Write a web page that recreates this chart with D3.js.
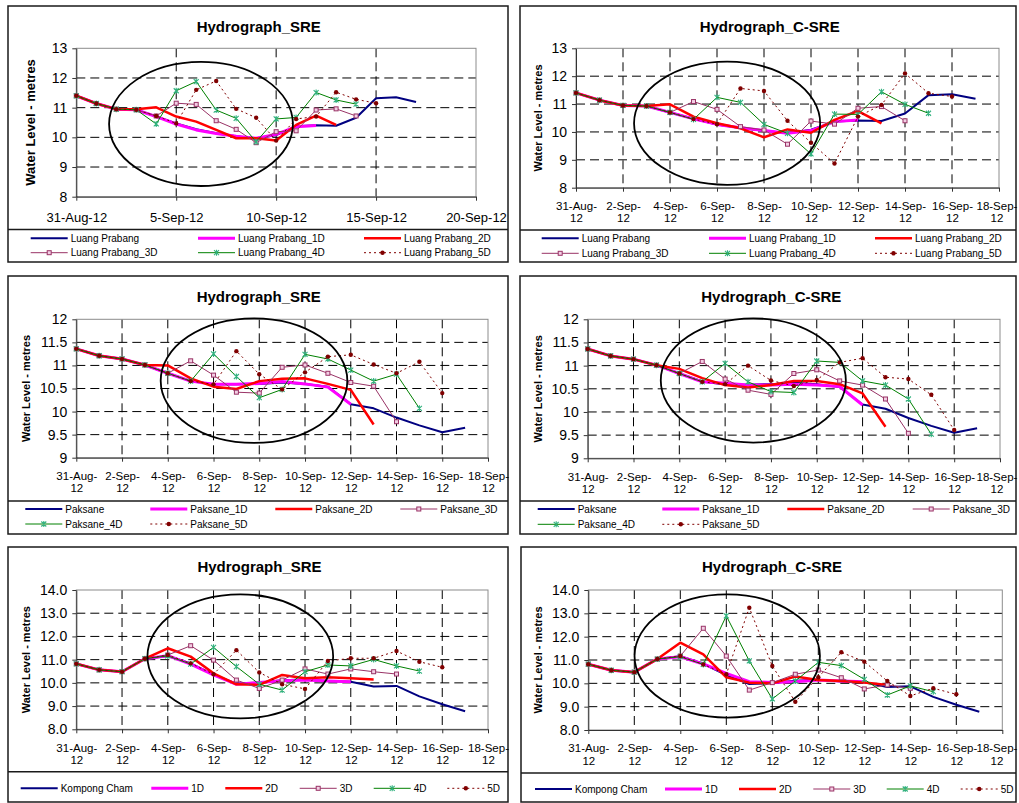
<!DOCTYPE html>
<html><head><meta charset="utf-8">
<script src="https://cdn.jsdelivr.net/npm/d3@7"></script>
<style>
body{margin:0;background:#fff}
svg{display:block}
text{font-family:"Liberation Sans",Arial,Helvetica,sans-serif}
</style>
</head><body>
<svg id="chart" width="1019" height="803"></svg>
<script>
// ---------- categories ----------
const dates = ["31-Aug-12","1-Sep-12","2-Sep-12","3-Sep-12","4-Sep-12","5-Sep-12","6-Sep-12","7-Sep-12","8-Sep-12",
  "9-Sep-12","10-Sep-12","11-Sep-12","12-Sep-12","13-Sep-12","14-Sep-12","15-Sep-12","16-Sep-12","17-Sep-12"];
const xTicks5 = ["31-Aug-12","5-Sep-12","10-Sep-12","15-Sep-12","20-Sep-12"];
const xTicks2 = ["31-Aug-12","2-Sep-12","4-Sep-12","6-Sep-12","8-Sep-12","10-Sep-12","12-Sep-12","14-Sep-12","16-Sep-12","18-Sep-12"];
const yTicksLP = ["8","9","10","11","12","13"];
const yTicksPK = ["9","9.5","10","10.5","11","11.5","12"];
const yTicksKC = ["8.0","9.0","10.0","11.0","12.0","13.0","14.0"];

// ---------- series names ----------
const namesLP = ["Luang Prabang","Luang Prabang_1D","Luang Prabang_2D","Luang Prabang_3D","Luang Prabang_4D","Luang Prabang_5D"];
const namesPK = ["Paksane","Paksane_1D","Paksane_2D","Paksane_3D","Paksane_4D","Paksane_5D"];
const namesKC = ["Kompong Cham","1D","2D","3D","4D","5D"];

// ---------- observed ----------
const obsLP = [11.40,11.14,10.95,10.93,10.70,10.47,10.27,10.14,10.04,9.95,10.08,10.37,10.41,10.39,10.66,11.32,11.35,11.19];
const obsPK = [11.36,11.21,11.14,11.01,10.83,10.66,10.59,10.59,10.60,10.63,10.60,10.54,10.16,10.07,9.87,9.70,9.55,9.65];
const obsKC = [10.82,10.56,10.48,11.04,11.16,10.84,10.35,9.97,10.01,10.11,10.15,10.08,10.05,9.84,9.87,9.42,9.08,8.78];

// ---------- Luang Prabang SRE ----------
const lpSre1D = [11.40,11.14,10.95,10.93,10.70,10.45,10.25,10.13,10.04,9.97,10.10,10.36,10.40];
const lpSre2D = [11.40,11.14,10.95,10.95,11.01,10.70,10.53,10.25,9.97,9.97,9.89,10.42,10.73,10.42];
const lpSre3D = [11.40,11.14,10.95,10.93,10.72,11.15,11.11,10.56,10.27,9.82,10.19,10.22,10.92,10.96,10.72];
const lpSre4D = [11.40,11.14,10.95,10.93,10.45,11.57,11.88,10.92,10.64,9.85,10.62,10.67,11.51,11.26,11.12];
const lpSre5D = [11.40,11.14,10.95,10.93,10.72,10.47,11.60,11.90,10.96,10.66,9.89,10.62,10.70,11.52,11.28,11.15];
// ---------- Luang Prabang C-SRE ----------
const lpC1D = [11.40,11.14,10.95,10.93,10.70,10.47,10.27,10.15,10.05,9.95,10.05,10.37,10.43];
const lpC2D = [11.40,11.14,10.95,10.93,10.99,10.55,10.31,10.13,9.81,10.09,9.97,10.43,10.75,10.31];
const lpC3D = [11.40,11.14,10.95,10.93,10.70,11.09,10.81,10.19,10.07,9.56,10.39,10.28,10.85,10.91,10.40];
const lpC4D = [11.40,11.14,10.95,10.93,10.70,10.45,11.24,11.06,10.27,9.95,9.21,10.64,10.63,11.44,10.99,10.67];
const lpC5D = [11.40,11.14,10.95,10.93,10.70,10.46,10.28,11.56,11.47,10.40,9.61,8.87,10.55,10.97,12.10,11.39,11.27];
// ---------- Paksane SRE ----------
const pkSre1D = [11.36,11.21,11.14,11.01,10.83,10.66,10.59,10.59,10.61,10.65,10.60,10.53,10.16];
const pkSre2D = [11.36,11.21,11.14,11.01,11.00,10.72,10.54,10.49,10.66,10.71,10.72,10.60,10.47,9.72];
const pkSre3D = [11.36,11.21,11.14,11.01,10.83,11.10,10.79,10.42,10.40,10.96,11.01,10.83,10.63,10.55,9.78];
const pkSre4D = [11.36,11.21,11.14,11.01,10.83,10.66,11.25,10.76,10.30,10.48,11.24,11.14,10.90,10.66,10.81,10.07];
const pkSre5D = [11.36,11.21,11.14,11.01,10.83,10.66,10.59,11.31,10.81,10.48,10.85,11.19,11.23,11.02,10.83,11.08,10.40];
// ---------- Paksane C-SRE ----------
const pkC1D = [11.36,11.21,11.14,11.01,10.83,10.65,10.62,10.58,10.58,10.60,10.58,10.55,10.15];
const pkC2D = [11.36,11.21,11.14,11.01,10.93,10.73,10.58,10.53,10.58,10.67,10.67,10.60,10.40,9.68];
const pkC3D = [11.36,11.21,11.14,11.01,10.83,11.09,10.71,10.47,10.38,10.83,10.91,10.67,10.58,10.28,9.54];
const pkC4D = [11.36,11.21,11.14,11.01,10.83,10.65,11.05,10.65,10.44,10.42,11.10,11.07,10.67,10.58,10.28,9.52];
const pkC5D = [11.36,11.21,11.14,11.01,10.83,10.65,10.60,11.00,10.68,10.56,10.69,11.07,11.16,10.75,10.71,10.37,9.61];
// ---------- Kompong Cham SRE ----------
const kcSre1D = [10.82,10.56,10.48,11.04,11.17,10.81,10.34,9.94,10.02,10.09,10.12,10.08,10.05];
const kcSre2D = [10.82,10.56,10.48,11.04,11.49,11.13,10.41,9.94,9.91,10.34,10.20,10.24,10.20,10.15];
const kcSre3D = [10.82,10.56,10.48,11.04,11.20,11.60,10.98,10.12,9.76,10.12,10.60,10.38,10.60,10.48,10.38];
const kcSre4D = [10.82,10.56,10.48,11.04,11.16,10.81,11.53,10.70,9.94,9.69,10.48,10.77,10.73,11.01,10.73,10.51];
const kcSre5D = [10.82,10.56,10.48,11.04,11.20,10.84,10.37,11.41,10.45,9.94,9.74,10.94,11.06,11.06,11.37,10.91,10.67];
// ---------- Kompong Cham C-SRE ----------
const kcC1D = [10.82,10.56,10.48,11.04,11.14,10.83,10.43,10.07,10.04,10.07,10.14,10.10,10.07];
const kcC2D = [10.82,10.56,10.48,11.04,11.74,11.24,10.26,10.03,10.00,10.29,10.14,10.10,10.04,9.93];
const kcC3D = [10.82,10.56,10.48,11.04,11.17,12.36,11.17,9.71,10.03,10.39,10.57,10.24,9.76,9.93,9.79];
const kcC4D = [10.82,10.56,10.48,11.04,11.14,10.81,12.89,10.96,9.33,10.10,10.90,10.76,10.17,9.50,9.89,9.64];
const kcC5D = [10.82,10.56,10.48,11.04,11.17,10.81,10.39,13.24,10.74,9.21,10.26,11.33,10.93,10.10,9.46,9.79,9.53];

// ---------- styles ----------
const styles = [
  {color:"#000080", width:2},
  {color:"#FF00FF", width:3},
  {color:"#FF0000", width:2.5},
  {color:"#993366", width:1, marker:"square"},
  {color:"#008000", width:1, marker:"star"},
  {color:"#800000", width:1, dash:"2,3", marker:"circle"}
];

// ---------- panel layout ----------
const panels = [
  {frame:[8,6,500,256], plot:[76.3,48.3,476,196.7], legendY:229.5, title:"Hydrograph_SRE", titleX:258.8, titleY:31.5,
   yLabelX:30.7, yLabelSize:13, xTicks:xTicks5, twoLine:false, yTicks:yTicksLP, names:namesLP,
   series:[obsLP,lpSre1D,lpSre2D,lpSre3D,lpSre4D,lpSre5D],
   legend:[[30.7,238.3],[198,238.3],[364,238.3],[30.7,252.7],[198,252.7],[364,252.7]],
   ellipse:[6.24,10.45,4.6,2.09]},
  {frame:[520,6,496,256], plot:[576,48.3,999,187.7], legendY:230, title:"Hydrograph_C-SRE", titleX:769.7, titleY:31.5,
   yLabelX:538.3, yLabelSize:11, xTicks:xTicks2, twoLine:true, yTicks:yTicksLP, names:namesLP,
   series:[obsLP,lpC1D,lpC2D,lpC3D,lpC4D,lpC5D],
   legend:[[541.7,238.3],[709,238.3],[875,238.3],[541.7,253.3],[709,253.3],[875,253.3]],
   ellipse:[6.43,10.31,3.96,2.21]},
  {frame:[8,276,500,258], plot:[76.3,319.3,488,457.7], legendY:501, title:"Hydrograph_SRE", titleX:258.8, titleY:301.7,
   yLabelX:26.3, yLabelSize:11, xTicks:xTicks2, twoLine:true, yTicks:yTicksPK, names:namesPK,
   series:[obsPK,pkSre1D,pkSre2D,pkSre3D,pkSre4D,pkSre5D],
   legend:[[25.3,509],[150.3,509],[275.3,509],[400.3,509],[25.3,524],[150.3,524]],
   ellipse:[7.77,10.67,4.08,1.35]},
  {frame:[520,276,496,258], plot:[587.7,319.3,1000,458.3], legendY:501, title:"Hydrograph_C-SRE", titleX:771.3, titleY:301.7,
   yLabelX:538.3, yLabelSize:11, xTicks:xTicks2, twoLine:true, yTicks:yTicksPK, names:namesPK,
   series:[obsPK,pkC1D,pkC2D,pkC3D,pkC4D,pkC5D],
   legend:[[537.7,509],[662.3,509],[787.3,509],[912.7,509],[537.7,524.3],[662.3,524.3]],
   ellipse:[7.23,10.68,4.04,1.34]},
  {frame:[8,547,500,255], plot:[76.3,590,488,729.3], legendY:771.7, title:"Hydrograph_SRE", titleX:259.5, titleY:571.7,
   yLabelX:26.3, yLabelSize:11, xTicks:xTicks2, twoLine:true, yTicks:yTicksKC, names:namesKC,
   series:[obsKC,kcSre1D,kcSre2D,kcSre3D,kcSre4D,kcSre5D],
   legend:[[20.7,788.3],[151.3,788.3],[225.3,788.3],[299.7,788.3],[373.7,788.3],[447.3,788.3]],
   ellipse:[7.17,11.14,4.06,2.67]},
  {frame:[521,547,495,255], plot:[588.3,590,1002.3,730], legendY:773, title:"Hydrograph_C-SRE", titleX:772, titleY:571.7,
   yLabelX:538.3, yLabelSize:11, xTicks:xTicks2, twoLine:true, yTicks:yTicksKC, names:namesKC,
   series:[obsKC,kcC1D,kcC2D,kcC3D,kcC4D,kcC5D],
   legend:[[535,789],[665,789],[739,789],[813.3,789],[886.7,789],[960.7,789]],
   ellipse:[6.04,11.17,4.03,2.64]}
];

const parse = d3.utcParse("%d-%b-%y");
const svg = d3.select("#chart");
const DAY = 864e5;
const MAXX = 1017;

function drawMarker(sel, type, color) {
  if (type === "square") {
    sel.append("rect").attr("x",-2).attr("y",-2).attr("width",4).attr("height",4)
      .attr("fill","#f2cfe4").attr("stroke",color).attr("stroke-width",1);
  } else if (type === "star") {
    sel.append("path").attr("d","M-2.5,-2.5L2.5,2.5M-2.5,2.5L2.5,-2.5M0,-3L0,3")
      .attr("stroke","#33b27f").attr("stroke-width",1.1).attr("fill","none");
  } else if (type === "circle") {
    sel.append("circle").attr("r",2.2).attr("fill",color);
  }
}

panels.forEach(p => {
  const g = svg.append("g");
  const [fx,fy,fw,fh] = p.frame;
  g.append("rect").attr("x",fx).attr("y",fy).attr("width",fw).attr("height",fh)
    .attr("fill","#fff").attr("stroke","#1a1a1a").attr("stroke-width",1.5);
  g.append("line").attr("x1",fx).attr("x2",fx+fw).attr("y1",p.legendY).attr("y2",p.legendY)
    .attr("stroke","#1a1a1a").attr("stroke-width",1.5);

  const [L,T,R,B] = p.plot;
  const xt = p.xTicks.map(parse);
  const x = d3.scaleUtc().domain([xt[0], xt[xt.length-1]]).range([L,R]);
  const yv = p.yTicks.map(Number);
  const y = d3.scaleLinear().domain([yv[0], yv[yv.length-1]]).range([B,T]);

  // grid
  g.selectAll(null).data(yv.slice(1,-1)).join("line")
    .attr("x1",L).attr("x2",R).attr("y1",d=>y(d)).attr("y2",d=>y(d))
    .attr("stroke","#000").attr("stroke-width",1).attr("stroke-dasharray","9,5");
  g.selectAll(null).data(xt.slice(1,-1)).join("line")
    .attr("x1",d=>x(d)).attr("x2",d=>x(d)).attr("y1",T).attr("y2",B)
    .attr("stroke","#000").attr("stroke-width",1).attr("stroke-dasharray","9,5");
  g.append("rect").attr("x",L).attr("y",T).attr("width",R-L).attr("height",B-T)
    .attr("fill","none").attr("stroke","#8c8c8c").attr("stroke-width",1);

  // axes
  const yAxis = d3.axisLeft(y).tickValues(yv).tickFormat((d,i)=>p.yTicks[i]).tickSize(4).tickSizeOuter(0).tickPadding(5);
  g.append("g").attr("transform",`translate(${L},0)`).call(yAxis)
    .call(s=>{s.select(".domain").attr("stroke","#333");
      s.selectAll(".tick line").attr("stroke","#333");
      s.selectAll("text").attr("font-size",14).attr("fill","#000");});
  const xAxis = d3.axisBottom(x).tickValues(xt).tickFormat((d,i)=>p.xTicks[i]).tickSize(4).tickSizeOuter(0);
  g.append("g").attr("transform",`translate(0,${B})`).call(xAxis)
    .call(s=>{s.select(".domain").attr("stroke","#333");
      s.selectAll(".tick line").attr("stroke","#333");
      s.selectAll(".tick").each(function(d){
        const t = d3.select(this).select("text");
        const lab = t.text();
        t.attr("fill","#000").attr("dy",null);
        if (!p.twoLine) {
          t.attr("font-size",13).attr("y",25);
        } else {
          const k = lab.lastIndexOf("-");
          t.text(null).attr("font-size",11.5).attr("y",null);
          t.append("tspan").attr("x",0).attr("y",22.3).text(lab.slice(0,k+1));
          t.append("tspan").attr("x",0).attr("y",34.6).text(lab.slice(k+1));
        }
        // keep the label inside the page
        const w = t.node().getComputedTextLength ? t.node().getBBox().width : 0;
        const over = x(d) + w/2 - MAXX;
        if (over > 0) t.selectAll("tspan").attr("x",-over);
        if (over > 0 && !p.twoLine) t.attr("x",-over);
      });});

  // title
  g.append("text").attr("x",p.titleX).attr("y",p.titleY).attr("text-anchor","middle")
    .attr("font-size",15).attr("font-weight","bold").text(p.title);
  // y label
  g.append("text").attr("transform",`translate(${p.yLabelX},${(T+B)/2}) rotate(-90)`)
    .attr("text-anchor","middle").attr("dy","0.35em")
    .attr("font-size",p.yLabelSize).attr("font-weight","bold").text("Water Level - metres");

  // series
  const line = d3.line().x(d=>x(d[0])).y(d=>y(d[1]));
  p.series.forEach((vals,k) => {
    const st = styles[k];
    const pts = vals.map((v,i)=>[parse(dates[i]), v]);
    g.append("path").datum(pts).attr("d",line).attr("fill","none")
      .attr("stroke",st.color).attr("stroke-width",st.width)
      .attr("stroke-dasharray",st.dash||null).attr("stroke-linejoin","round");
    if (st.marker) {
      g.selectAll(null).data(pts).join("g")
        .attr("transform",d=>`translate(${x(d[0])},${y(d[1])})`)
        .each(function(){ drawMarker(d3.select(this), st.marker, st.color); });
    }
  });

  // ellipse annotation (in data units)
  const [ecD, ecV, erD, erV] = p.ellipse;
  const cx = x(new Date(xt[0].getTime() + ecD*DAY));
  const rx = x(new Date(xt[0].getTime() + (ecD+erD)*DAY)) - cx;
  const cy = y(ecV), ry = y(ecV - erV) - cy;
  g.append("ellipse").attr("cx",cx).attr("cy",cy).attr("rx",rx).attr("ry",ry)
    .attr("fill","none").attr("stroke","#000").attr("stroke-width",1.8);

  // legend
  p.names.forEach((name,k) => {
    const st = styles[k];
    const [lx,ly] = p.legend[k];
    const lg = g.append("g");
    lg.append("line").attr("x1",lx).attr("x2",lx+37).attr("y1",ly).attr("y2",ly)
      .attr("stroke",st.color).attr("stroke-width",st.width).attr("stroke-dasharray",st.dash||null);
    if (st.marker) drawMarker(lg.append("g").attr("transform",`translate(${lx+18.5},${ly})`), st.marker, st.color);
    lg.append("text").attr("x",lx+40).attr("y",ly).attr("dy","0.35em").attr("font-size",10).text(name);
  });
});
</script>
</body></html>
